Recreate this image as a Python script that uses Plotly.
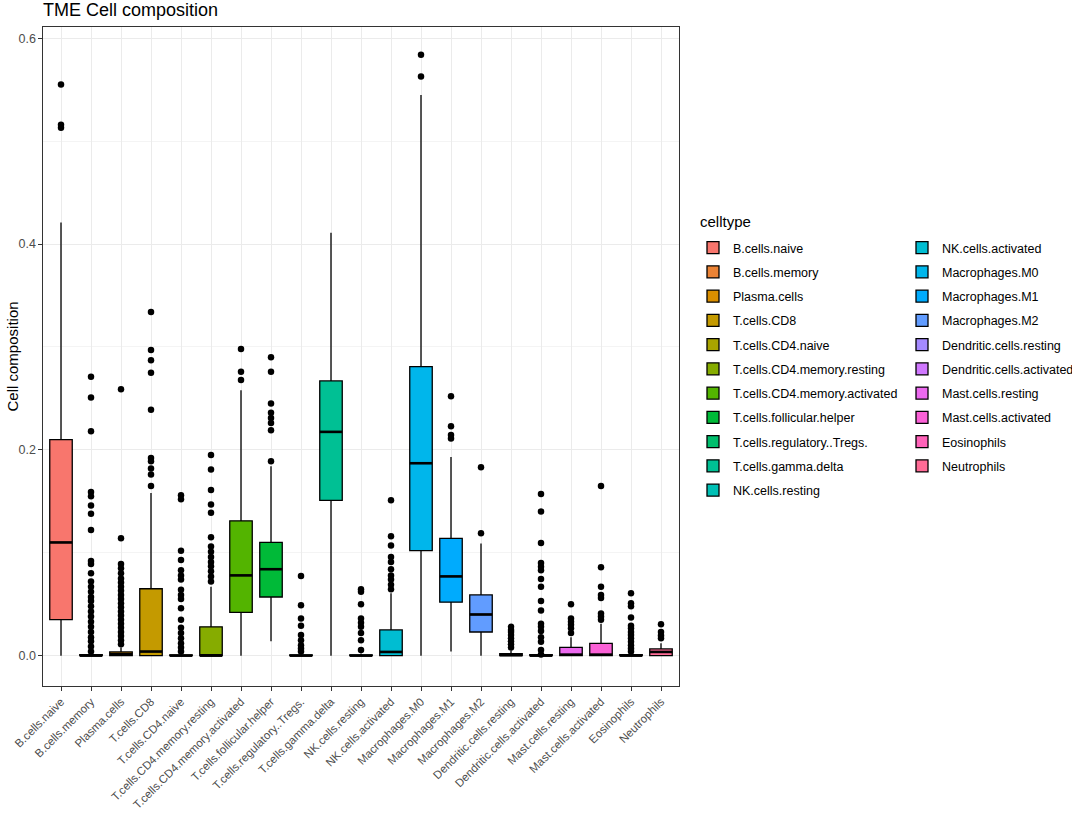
import math
import plotly.graph_objects as go

# cell types in plotting order
celltypes = [
    "B.cells.naive", "B.cells.memory", "Plasma.cells", "T.cells.CD8",
    "T.cells.CD4.naive", "T.cells.CD4.memory.resting",
    "T.cells.CD4.memory.activated", "T.cells.follicular.helper",
    "T.cells.regulatory..Tregs.", "T.cells.gamma.delta", "NK.cells.resting",
    "NK.cells.activated", "Macrophages.M0", "Macrophages.M1",
    "Macrophages.M2", "Dendritic.cells.resting", "Dendritic.cells.activated",
    "Mast.cells.resting", "Mast.cells.activated", "Eosinophils", "Neutrophils",
]

# box statistics
lower_whisker = [0.0, 0.0, 0.0, 0.0, 0.0, 0.0, 0.0, 0.014, 0.0, 0.0, 0.0,
                 0.0, 0.0, 0.004, 0.0, 0.0, 0.0, 0.0, 0.0, 0.0, 0.0]
q1 = [0.035, 0.0, 0.0, 0.0, 0.0, 0.0, 0.042, 0.057, 0.0, 0.151, 0.0,
      0.0, 0.102, 0.052, 0.023, 0.0, 0.0, 0.0, 0.0, 0.0, 0.0]
median = [0.110, 0.0, 0.0016, 0.004, 0.0, 0.0, 0.078, 0.084, 0.0, 0.2175, 0.0,
          0.0036, 0.187, 0.077, 0.040, 0.0005, 0.0, 0.001, 0.001, 0.0, 0.0036]
q3 = [0.210, 0.001, 0.0036, 0.065, 0.0008, 0.028, 0.131, 0.110, 0.0008, 0.267, 0.0008,
      0.025, 0.281, 0.114, 0.059, 0.002, 0.001, 0.008, 0.012, 0.001, 0.0065]
upper_whisker = [0.421, 0.002, 0.008, 0.158, 0.002, 0.067, 0.258, 0.184, 0.002, 0.411, 0.002,
                 0.0606, 0.545, 0.193, 0.109, 0.005, 0.002, 0.018, 0.031, 0.002, 0.012]

# outlying points per cell type
outliers = [
    [0.555, 0.516, 0.513],
    [0.271, 0.251, 0.218, 0.159, 0.155, 0.146, 0.138, 0.122, 0.092, 0.089, 0.080,
     0.072, 0.067, 0.062, 0.057, 0.053, 0.048, 0.043, 0.038, 0.033, 0.028, 0.023,
     0.018, 0.014, 0.009, 0.004],
    [0.259, 0.114, 0.089, 0.085, 0.080, 0.075, 0.071, 0.067, 0.063, 0.059, 0.055,
     0.051, 0.047, 0.043, 0.039, 0.035, 0.031, 0.027, 0.023, 0.019, 0.015, 0.011],
    [0.334, 0.297, 0.287, 0.275, 0.239, 0.192, 0.189, 0.182, 0.176, 0.165],
    [0.156, 0.152, 0.102, 0.093, 0.083, 0.078, 0.074, 0.064, 0.059, 0.055, 0.046,
     0.035, 0.027, 0.022, 0.017, 0.012, 0.008, 0.004],
    [0.195, 0.181, 0.161, 0.147, 0.139, 0.115, 0.106, 0.101, 0.096, 0.091, 0.087,
     0.082, 0.077, 0.072],
    [0.298, 0.276, 0.268],
    [0.290, 0.276, 0.245, 0.236, 0.231, 0.226, 0.219, 0.189],
    [0.0775, 0.049, 0.036, 0.029, 0.020, 0.015, 0.010, 0.007, 0.004],
    [],
    [0.0645, 0.062, 0.050, 0.036, 0.032, 0.028, 0.022, 0.015, 0.0055],
    [0.151, 0.116, 0.107, 0.096, 0.091, 0.084, 0.078, 0.074, 0.069, 0.0645],
    [0.584, 0.563],
    [0.252, 0.223, 0.2145, 0.211],
    [0.183, 0.119],
    [0.028, 0.025, 0.023, 0.020, 0.017, 0.014, 0.011, 0.008],
    [0.157, 0.140, 0.1096, 0.090, 0.0865, 0.083, 0.0745, 0.067, 0.053, 0.044,
     0.031, 0.028, 0.024, 0.018, 0.0136, 0.0055, 0.001],
    [0.050, 0.036, 0.033, 0.030, 0.0266, 0.022],
    [0.165, 0.086, 0.067, 0.059, 0.056, 0.041, 0.038, 0.035],
    [0.0606, 0.051, 0.048, 0.037, 0.029, 0.0266, 0.023, 0.020, 0.017, 0.0136,
     0.010, 0.007, 0.004],
    [0.0305, 0.023, 0.0195, 0.017],
]

y_ticks = [0.0, 0.2, 0.4, 0.6]


def hue_pal(n, c=100, l=65):
    # ggplot2 default discrete palette (HCL hues)
    cols = []
    xn, yn, zn = 0.95047, 1.0, 1.08883
    un = 4 * xn / (xn + 15 * yn + 3 * zn)
    vn = 9 * yn / (xn + 15 * yn + 3 * zn)
    for i in range(n):
        h = math.radians(15 + 360.0 * i / n)
        U, V = c * math.cos(h), c * math.sin(h)
        Y = yn * ((l + 16) / 116.0) ** 3
        u = U / (13 * l) + un
        v = V / (13 * l) + vn
        X = 9 * Y * u / (4 * v)
        Z = -X / 3 - 5 * Y + 3 * Y / v
        rgb = [3.240479 * X - 1.537150 * Y - 0.498535 * Z,
               -0.969256 * X + 1.875992 * Y + 0.041556 * Z,
               0.055648 * X - 0.204043 * Y + 1.057311 * Z]
        out = []
        for ch in rgb:
            ch = 12.92 * ch if ch <= 0.0031308 else 1.055 * ch ** (1 / 2.4) - 0.055
            out.append(int(round(min(max(ch, 0), 1) * 255)))
        cols.append("#%02X%02X%02X" % tuple(out))
    return cols


colors = hue_pal(len(celltypes))
FONT = "Liberation Sans, Arial, sans-serif"
W, H = 1072, 815

fig = go.Figure()
half = 11
for i, name in enumerate(celltypes):
    fig.add_trace(go.Box(
        x=[name], q1=[q1[i]], median=[median[i]], q3=[q3[i]],
        lowerfence=[lower_whisker[i]], upperfence=[upper_whisker[i]],
        name=name, fillcolor=colors[i], line=dict(color="black", width=1.3),
        width=0.75, whiskerwidth=0, boxpoints=False,
        legend="legend" if i < half else "legend2",
        legendgroup=name, hoverinfo="skip",
    ))

# thicker median bars, like geom_boxplot
fig.add_trace(go.Scatter(
    x=celltypes, y=median, mode="markers", showlegend=False, hoverinfo="skip",
    marker=dict(symbol="line-ew", size=16, line=dict(color="black", width=2.6)),
))

out_x, out_y = [], []
for name, vals in zip(celltypes, outliers):
    out_x += [name] * len(vals)
    out_y += vals
fig.add_trace(go.Scatter(
    x=out_x, y=out_y, mode="markers", showlegend=False, hoverinfo="skip",
    marker=dict(color="black", size=6.5),
))

fig.add_annotation(text="celltype", xref="paper", yref="paper",
                   x=1.0299, y=0.7056, xanchor="left", yanchor="middle",
                   showarrow=False, font=dict(size=15, color="black"))
fig.add_annotation(text="Cell composition", xref="paper", yref="paper",
                   x=-0.0472, y=0.5, xanchor="center", yanchor="middle",
                   textangle=-90, showarrow=False,
                   font=dict(size=15, color="black"))

fig.update_layout(
    width=W, height=H,
    margin=dict(l=43, r=393, t=27, b=129),
    paper_bgcolor="white", plot_bgcolor="white",
    font=dict(family=FONT, color="black"),
    title=dict(text="TME Cell composition", x=0, xref="paper", xanchor="left",
               y=1 - 10 / H, yanchor="middle", yref="container",
               pad=dict(l=0, r=0, t=0, b=0),
               font=dict(size=18, color="black")),
    boxmode="overlay",
    legend=dict(xref="container", yref="container",
                x=693 / W, xanchor="left", y=1 - 233 / H, yanchor="top",
                font=dict(size=12.5), tracegroupgap=5, traceorder="grouped",
                bgcolor="rgba(0,0,0,0)"),
    legend2=dict(xref="container", yref="container",
                 x=902 / W, xanchor="left", y=1 - 233 / H, yanchor="top",
                 font=dict(size=12.5), tracegroupgap=5, traceorder="grouped",
                 bgcolor="rgba(0,0,0,0)"),
)

fig.update_xaxes(
    categoryorder="array", categoryarray=celltypes, range=[-0.6, 20.6],
    automargin=False,
    tickangle=-45, tickfont=dict(size=11.5, color="#4D4D4D"),
    ticks="outside", ticklen=3.5, tickcolor="#333333",
    showgrid=True, gridcolor="#EBEBEB", gridwidth=1,
    showline=True, linecolor="#333333", linewidth=1.1, mirror=True,
)
fig.update_yaxes(
    range=[-0.0295, 0.611], tickvals=y_ticks, ticktext=["0.0", "0.2", "0.4", "0.6"],
    automargin=False,
    tickfont=dict(size=12.5, color="#4D4D4D"),
    ticks="outside", ticklen=3.5, tickcolor="#333333",
    showgrid=True, gridcolor="#EBEBEB", gridwidth=1, zeroline=False,
    minor=dict(dtick=0.1, tick0=0, showgrid=True, gridcolor="#F4F4F4", gridwidth=0.6),
    showline=True, linecolor="#333333", linewidth=1.1, mirror=True,
)

# drop the default page margin so the figure sits at the window's corner
fig.write_html("out.html", config={"displayModeBar": False},
               post_script="document.body.style.margin = '0';")
